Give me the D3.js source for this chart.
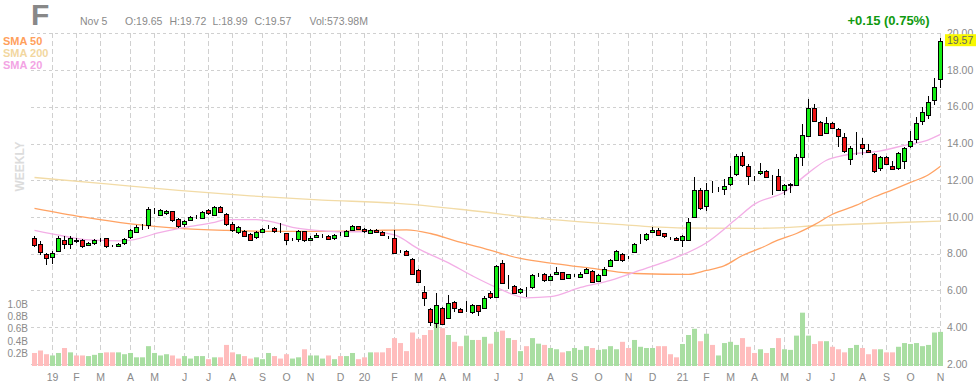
<!DOCTYPE html>
<html>
<head>
<meta charset="utf-8">
<script src="https://cdn.jsdelivr.net/npm/d3@7"></script>
<style>
  body { margin: 0; background: #fff; }
  svg { display: block; font-family: "Liberation Sans", Arial, sans-serif; }
</style>
</head>
<body>
<svg width="977" height="388"></svg>
<script>
// weekly candles, first week = Dec 10 2018, last week = Nov 1 2021
var open = [
  8.83,8.51,8.00,7.82,8.13,8.77,8.57,8.77,8.73,8.46,
  8.57,8.76,8.83,8.43,8.42,8.57,8.88,9.16,9.51,9.56,
  10.39,10.13,10.18,10.31,9.89,9.58,9.83,9.97,9.98,10.39,
  10.10,10.53,10.17,9.61,9.16,9.25,9.06,8.88,9.19,9.42,
  9.38,9.17,9.10,8.78,8.79,9.21,8.79,8.92,8.95,8.98,
  8.84,9.12,8.99,9.30,9.50,9.35,9.13,9.28,9.19,8.91,
  8.86,8.14,8.13,7.71,7.10,5.94,5.00,4.20,5.06,4.51,
  5.39,5.00,4.90,4.82,5.19,5.06,5.88,5.64,7.51,6.18,
  6.25,5.88,6.13,6.16,6.84,6.88,6.59,6.88,6.98,6.65,
  6.80,6.76,6.92,7.05,6.50,6.88,7.30,7.63,7.96,7.78,
  8.07,8.65,8.77,9.16,9.28,9.10,8.84,8.88,8.74,8.77,
  10.00,11.45,10.58,11.50,11.54,11.49,11.82,12.33,13.33,12.80,
  12.15,12.36,12.49,12.21,12.24,11.49,11.74,11.76,13.31,14.45,
  15.96,15.18,14.58,15.13,14.80,14.33,13.18,13.86,14.00,13.67,
  13.45,12.69,13.27,12.80,12.69,13.04,13.85,14.25,15.23,15.52,
  16.38,17.50
];
var high = [
  8.95,8.70,8.05,8.12,8.95,8.95,8.97,8.83,8.80,8.62,
  8.80,8.88,8.88,8.48,8.60,8.83,9.33,9.55,9.62,10.52,
  10.50,10.45,10.38,10.35,9.95,9.82,10.03,10.10,10.35,10.45,
  10.58,10.58,10.22,9.70,9.52,9.30,9.10,9.22,9.42,9.55,
  9.45,9.68,9.15,8.88,9.30,9.25,8.96,9.10,9.05,9.02,
  9.05,9.20,9.30,9.55,9.53,9.38,9.35,9.32,9.25,8.98,
  9.28,8.20,8.18,7.75,7.15,6.25,5.05,5.88,5.10,5.73,
  5.42,5.05,5.45,5.25,5.22,5.68,5.95,7.38,7.68,6.85,
  6.30,6.12,6.20,6.88,6.95,6.95,6.88,7.28,7.03,6.92,
  6.90,6.98,7.22,7.12,6.88,7.25,7.70,8.18,8.02,7.85,
  8.58,9.05,9.12,9.45,9.38,9.15,8.92,8.92,9.00,9.95,
  12.20,11.55,11.85,11.95,11.62,12.05,12.75,13.45,13.55,12.88,
  12.22,12.95,12.55,12.30,12.60,11.82,11.85,13.45,15.05,16.45,
  16.15,15.25,15.45,15.18,14.85,14.55,13.85,14.65,14.30,14.00,
  13.50,13.33,13.30,13.05,13.55,13.82,14.70,15.47,16.00,16.60,
  17.56,19.72
];
var low = [
  8.38,7.95,7.41,7.45,8.10,8.25,8.26,8.60,8.30,8.40,
  8.50,8.65,8.30,8.35,8.36,8.50,8.82,9.10,9.30,9.35,
  10.15,10.08,10.12,9.75,9.40,9.45,9.78,9.90,9.92,10.12,
  10.05,10.20,9.50,9.18,9.08,8.90,8.68,8.82,9.12,9.35,
  9.12,9.10,8.45,8.70,8.65,8.62,8.70,8.86,8.88,8.76,
  8.72,8.98,8.92,9.25,9.28,9.15,9.08,9.10,8.95,8.78,
  8.00,8.05,7.88,6.85,6.40,5.16,4.05,3.96,4.10,4.45,
  4.85,4.78,4.82,4.70,4.60,5.00,5.55,5.60,6.35,6.10,
  5.82,5.80,5.65,6.10,6.75,6.48,6.52,6.82,6.55,6.60,
  6.72,6.70,6.88,6.38,6.45,6.82,7.25,7.58,7.55,7.70,
  8.02,8.55,8.70,9.10,8.95,8.88,8.75,8.72,8.37,8.70,
  9.95,10.38,10.30,11.30,11.35,11.18,11.70,12.25,12.70,11.75,
  11.98,12.30,12.10,11.22,11.40,11.22,11.30,11.70,12.75,14.35,
  15.15,14.40,14.50,14.82,13.80,13.50,12.85,13.35,13.35,13.50,
  12.40,12.50,12.82,12.58,12.58,12.60,13.78,14.05,15.00,15.34,
  16.10,17.00
];
var close = [
  8.46,8.05,7.78,8.06,8.83,8.57,8.88,8.74,8.39,8.57,
  8.73,8.78,8.37,8.41,8.55,8.79,9.28,9.43,9.53,10.44,
  10.41,10.40,10.31,9.80,9.52,9.76,9.98,9.99,10.29,10.20,
  10.53,10.26,9.61,9.28,9.43,8.97,8.75,9.16,9.34,9.44,
  9.19,9.15,8.73,8.80,9.25,8.73,8.88,9.03,8.97,8.84,
  9.00,9.10,9.24,9.50,9.33,9.22,9.30,9.17,9.02,8.89,
  8.07,8.12,7.93,6.92,6.47,5.61,4.29,5.19,4.18,5.33,
  5.06,4.84,4.92,5.22,4.88,5.61,5.64,7.32,6.43,6.20,
  5.88,6.06,6.11,6.83,6.86,6.55,6.81,6.99,6.60,6.87,
  6.82,6.92,7.14,6.45,6.83,7.19,7.63,8.12,7.61,7.76,
  8.52,8.67,9.06,9.28,9.00,8.95,8.82,8.77,8.95,9.73,
  11.49,10.45,11.45,11.48,11.56,11.67,12.18,13.33,12.82,12.27,
  12.13,12.49,12.18,12.23,11.49,11.76,11.77,13.27,14.49,15.96,
  15.24,14.49,15.13,14.87,14.44,13.55,13.76,13.88,13.78,13.55,
  12.55,13.27,12.87,12.64,13.49,13.73,14.13,15.10,15.71,16.25,
  17.07,19.57
];
// weekly volume, billions
var volume = [
  0.21,0.25,0.19,0.17,0.21,0.29,0.22,0.17,0.17,0.16,
  0.18,0.21,0.22,0.22,0.22,0.19,0.21,0.14,0.14,0.32,
  0.21,0.17,0.19,0.17,0.12,0.16,0.12,0.16,0.16,0.11,
  0.14,0.14,0.34,0.22,0.19,0.16,0.12,0.14,0.11,0.21,
  0.16,0.12,0.19,0.12,0.14,0.27,0.17,0.17,0.12,0.17,
  0.11,0.16,0.16,0.21,0.11,0.14,0.22,0.22,0.22,0.29,
  0.45,0.37,0.24,0.54,0.44,0.50,0.58,0.69,0.61,0.50,
  0.39,0.32,0.49,0.42,0.42,0.47,0.36,0.55,0.57,0.45,
  0.42,0.24,0.32,0.45,0.36,0.34,0.29,0.27,0.22,0.24,
  0.29,0.26,0.32,0.29,0.26,0.27,0.32,0.27,0.39,0.29,
  0.42,0.31,0.29,0.29,0.32,0.32,0.19,0.14,0.355,0.50,
  0.60,0.40,0.52,0.34,0.17,0.37,0.39,0.34,0.45,0.31,
  0.21,0.27,0.21,0.29,0.45,0.27,0.26,0.49,0.86,0.49,
  0.355,0.40,0.40,0.31,0.27,0.22,0.29,0.34,0.29,0.19,
  0.27,0.27,0.22,0.22,0.31,0.37,0.355,0.37,0.32,0.34,
  0.54,0.55
];

// moving averages: [week index, value]
var sma20 = [[0,9.27],[5,8.95],[9,8.75],[15,8.70],[21,9.16],[25,9.43],[30,9.71],[32,9.85],[37,9.85],[40,9.71],
  [43,9.43],[48,9.25],[51,9.19],[56,9.2],[60,9.02],[64,8.26],[69,7.5],[73,6.79],[77,6.16],[82,5.6],[86,5.66],
  [91,6.16],[96,6.55],[101,7.1],[107,7.8],[112,8.6],[117,9.9],[120,10.7],[125,11.36],[129,12.4],[132,13.09],
  [135,13.36],[141,13.6],[145,13.9],[149,14.2],[151,14.5]];
var sma50 = [[0,10.47],[8,10.0],[16,9.62],[24,9.38],[32,9.27],[40,9.22],[48,9.22],[56,9.26],[62,9.3],[66,9.1],
  [70,8.71],[75,8.28],[81,7.74],[87,7.45],[93,7.2],[99,6.95],[105,6.88],[109,6.87],[112,7.09],[115,7.35],
  [118,7.9],[121,8.3],[124,8.75],[127,9.1],[130,9.58],[133,10.15],[137,10.64],[140,11.1],[143,11.48],
  [146,11.88],[149,12.3],[151,12.76]];
var sma200 = [[0,12.15],[12,11.8],[24,11.45],[36,11.15],[48,10.92],[60,10.75],[72,10.38],[84,9.92],[96,9.62],
  [108,9.4],[120,9.38],[132,9.55],[144,9.7],[151,9.77]];

var tickIdx = [3,7,11,16,20,25,29,33,38,42,46,51,55,60,64,68,72,77,81,86,90,94,99,103,108,112,116,120,125,129,133,138,142,146,151];
var tickLbl = ["19","F","M","A","M","J","J","A","S","O","N","D","20","F","M","A","M","J","J","A","S","O","N","D","21","F","M","A","M","J","J","A","S","O","N"];
var priceTicks = [2,4,6,8,10,12,14,16,18,20];
var volTicks = [0.2,0.4,0.6,0.8,1.0];

var svg = d3.select("svg");
var left = 31, right = 941;

var x = d3.scaleBand().domain(d3.range(open.length)).range([30.7, 942.7]);
function cx(i) { return Math.round(x(i) + x.bandwidth() / 2); }

var y = d3.scaleLinear().domain([2, 20]).range([363.9, 33.3]);
var yv = d3.scaleLinear().domain([0, 1]).range([366, 304]);

// grid
svg.append("g").selectAll("line").data(priceTicks).enter().append("line")
    .attr("x1", left).attr("x2", right)
    .attr("y1", function(d) { return Math.round(y(d)) + 0.5; })
    .attr("y2", function(d) { return Math.round(y(d)) + 0.5; })
    .attr("stroke", "#d0d0d0").attr("stroke-dasharray", "3,3");

svg.append("g").selectAll("line").data(tickIdx).enter().append("line")
    .attr("x1", function(d) { return cx(d) + 0.5; })
    .attr("x2", function(d) { return cx(d) + 0.5; })
    .attr("y1", 33).attr("y2", 366)
    .attr("stroke", "#d0d0d0").attr("stroke-dasharray", "5,3");

// volume
svg.append("g").selectAll("rect").data(volume).enter().append("rect")
    .attr("x", function(d, i) { return cx(i) - 2; })
    .attr("width", 5)
    .attr("y", function(d) { return yv(d); })
    .attr("height", function(d) { return yv(0) - yv(d); })
    .attr("fill", function(d, i) { return close[i] >= open[i] ? "#a9dea2" : "#ffbdbd"; });

// moving averages
var line = d3.line()
    .x(function(d) { return cx(d[0]) + 0.5; })
    .y(function(d) { return y(d[1]); })
    .curve(d3.curveMonotoneX);

[[sma200, "#f2dba6"], [sma50, "#ffa263"], [sma20, "#f3aee6"]].forEach(function(s) {
    svg.append("path").datum(s[0])
        .attr("d", line)
        .attr("fill", "none")
        .attr("stroke", s[1])
        .attr("stroke-width", 1.3);
});

// candles
var candle = svg.append("g").selectAll("g").data(open).enter().append("g")
    .attr("shape-rendering", "crispEdges");

candle.append("line")
    .attr("x1", function(d, i) { return cx(i) + 0.5; })
    .attr("x2", function(d, i) { return cx(i) + 0.5; })
    .attr("y1", function(d, i) { return y(high[i]); })
    .attr("y2", function(d, i) { return y(low[i]); })
    .attr("stroke", "#000");

candle.append("rect")
    .attr("x", function(d, i) { return cx(i) - 1.5; })
    .attr("width", 4)
    .attr("y", function(d, i) { return Math.round(y(Math.max(open[i], close[i]))) + 0.5; })
    .attr("height", function(d, i) { return Math.max(0, Math.round(Math.abs(y(open[i]) - y(close[i])))); })
    .attr("fill", function(d, i) { return close[i] >= open[i] ? "#14ee14" : "#ee1414"; })
    .attr("stroke", "#000");

// price axis
svg.append("g").selectAll("text").data(priceTicks).enter().append("text")
    .attr("x", 947).attr("y", function(d) { return y(d) + 3.7; })
    .attr("font-size", "10.5px").attr("fill", "#8a8a8a")
    .text(function(d) { return d.toFixed(2); });

var lastY = y(close[close.length - 1]);
svg.append("rect")
    .attr("x", 945).attr("y", lastY - 7).attr("width", 31).attr("height", 12)
    .attr("fill", "#f8f800");
svg.append("text")
    .attr("x", 947).attr("y", lastY + 3)
    .attr("font-size", "10.5px").attr("fill", "#666")
    .text(close[close.length - 1].toFixed(2));

// volume axis
svg.append("g").selectAll("text").data(volTicks).enter().append("text")
    .attr("x", 28).attr("y", function(d) { return yv(d) + 3.6; })
    .attr("text-anchor", "end")
    .attr("font-size", "10px").attr("fill", "#8a8a8a")
    .text(function(d) { return d.toFixed(1) + "B"; });

// months
svg.append("g").selectAll("text").data(tickIdx).enter().append("text")
    .attr("x", function(d) { return cx(d) + 0.5; })
    .attr("y", 381)
    .attr("text-anchor", "middle")
    .attr("font-size", "10.5px").attr("fill", "#8a8a8a")
    .text(function(d, i) { return tickLbl[i]; });

// header
svg.append("text").attr("x", 31).attr("y", 25)
    .attr("font-size", "30px").attr("font-weight", "bold").attr("fill", "#888")
    .text("F");

var info = [[80, "Nov 5"], [125, "O:19.65"], [169.5, "H:19.72"], [212.5, "L:18.99"], [254.5, "C:19.57"], [309.5, "Vol:573.98M"]];
svg.append("g").selectAll("text").data(info).enter().append("text")
    .attr("x", function(d) { return d[0]; }).attr("y", 25)
    .attr("font-size", "10.5px").attr("fill", "#8a8a8a")
    .text(function(d) { return d[1]; });

svg.append("text").attr("x", 929.5).attr("y", 25)
    .attr("text-anchor", "end")
    .attr("font-size", "13px").attr("font-weight", "bold").attr("fill", "#109a10")
    .text("+0.15 (0.75%)");

var legend = [["SMA 50", "#ffa05c"], ["SMA 200", "#f2d79f"], ["SMA 20", "#f3a4e4"]];
svg.append("g").selectAll("text").data(legend).enter().append("text")
    .attr("x", 3).attr("y", function(d, i) { return 45 + i * 12; })
    .attr("font-size", "11px").attr("font-weight", "bold").attr("fill", function(d) { return d[1]; })
    .text(function(d) { return d[0]; });

svg.append("text")
    .attr("transform", "translate(24,166.5) rotate(-90)")
    .attr("text-anchor", "middle")
    .attr("font-size", "12px").attr("font-weight", "bold").attr("fill", "#dcdcdc")
    .text("WEEKLY");
</script>
</body>
</html>
